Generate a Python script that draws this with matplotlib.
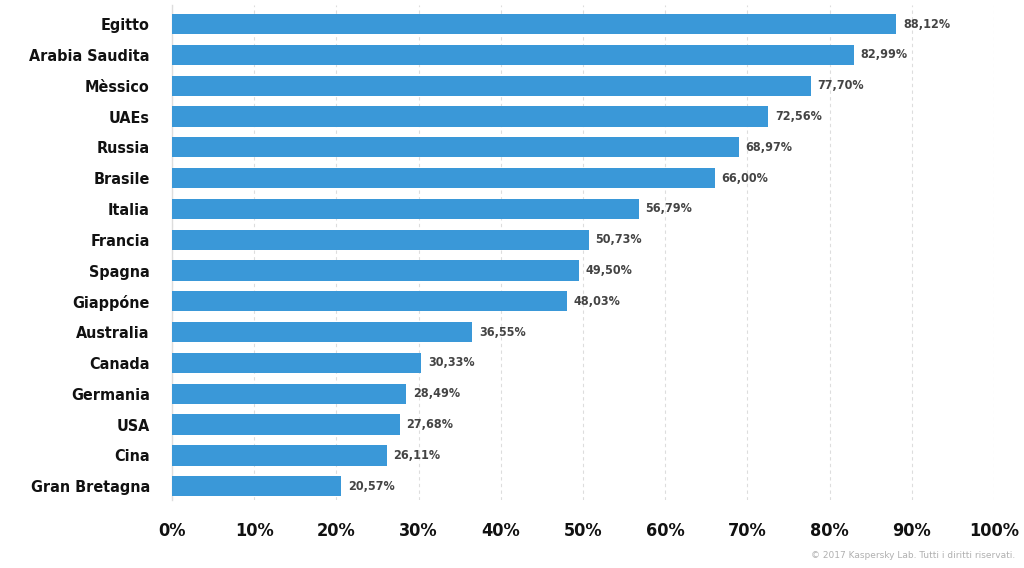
import matplotlib
matplotlib.use("Agg")
import matplotlib.pyplot as plt
from matplotlib import font_manager
import numpy as np

countries = ["Egitto", "Arabia Saudita", "Mèssico", "UAEs", "Russia", "Brasile",
             "Italia", "Francia", "Spagna", "Giappóne", "Australia", "Canada",
             "Germania", "USA", "Cina", "Gran Bretagna"]
values = [88.12, 82.99, 77.70, 72.56, 68.97, 66.00, 56.79, 50.73, 49.50, 48.03,
          36.55, 30.33, 28.49, 27.68, 26.11, 20.57]
xticks = [0, 10, 20, 30, 40, 50, 60, 70, 80, 90, 100]

# is there a condensed face around?
cond = [f for f in font_manager.fontManager.ttflist if f.stretch == "condensed"]
has_cond = any(f.name == "DejaVu Sans" for f in cond)
stretch = "condensed" if has_cond else "normal"

fig = plt.figure(figsize=(10.24, 5.68), dpi=100)
ax = fig.add_axes([172 / 1024, 1 - 500 / 568, 822 / 1024, 495 / 568])

y = np.arange(len(countries))
ax.barh(y, values, height=0.66, color="#3a98d8", zorder=3)

for yi, v in zip(y, values):
    ax.text(v + 0.8, yi, ("%.2f%%" % v).replace(".", ","), va="center", ha="left",
            fontsize=9 if has_cond else 8.5, fontweight="bold", color="#444444",
            fontstretch=stretch)

ax.set_xlim(0, 100)
ax.set_ylim(len(countries) - 1 + 0.45, -0.62)
ax.set_yticks(y)
ax.set_yticklabels(countries, fontsize=11.5 if has_cond else 10.5, fontweight="bold",
                   color="#111111", fontstretch=stretch)
ax.set_xticks(xticks)
ax.set_xticklabels(["%d%%" % t for t in xticks], fontsize=13 if has_cond else 12,
                   fontweight="bold", color="#111111", fontstretch=stretch)
ax.tick_params(axis="both", length=0)
ax.tick_params(axis="x", pad=16)
ax.tick_params(axis="y", pad=16)

ax.grid(axis="x", color="#dddddd", linestyle=(0, (3, 3)), linewidth=0.8, zorder=0)
for s in ["top", "right", "bottom"]:
    ax.spines[s].set_visible(False)
ax.spines["left"].set_color("#dddddd")
ax.spines["left"].set_linewidth(1)

fig.text(1015 / 1024, 1 - 555 / 568, "© 2017 Kaspersky Lab. Tutti i diritti riservati.",
         ha="right", va="center", fontsize=6.5, color="#b0b0b0")

fig.savefig("out.png", dpi=100)
